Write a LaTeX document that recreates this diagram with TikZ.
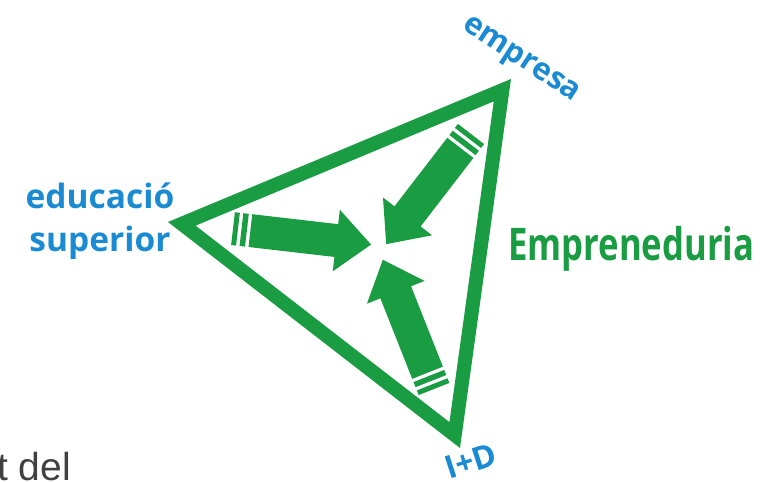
\documentclass[tikz,border=0pt]{standalone}
\usepackage{fontspec}
\setmainfont{Open Sans}
\newfontfamily\greyfont{Liberation Sans}
\definecolor{tgreen}{RGB}{26,156,66}
\definecolor{tblue}{RGB}{26,139,211}
\definecolor{tgrey}{RGB}{64,64,64}
\tikzset{
  lbl/.style={font=\fontsize{31}{43}\selectfont\bfseries, text=tblue, inner sep=0pt},
  fatarrow/.pic={
    \fill[tgreen] (0,-16.5) rectangle (5,16.5);
    \fill[tgreen] (8.5,-16.5) rectangle (14,16.5);
    \fill[tgreen] (17.5,-16.5) -- (104,-16.5) -- (104,-31) -- (139,0) -- (104,31) -- (104,16.5) -- (17.5,16.5) -- cycle;
  }
}
\begin{document}
\begin{tikzpicture}[x=1pt,y=-1pt]
\useasboundingbox (0,0) rectangle (777,482);
\coordinate (vtop) at (511,79);
\coordinate (vleft) at (168,222);
\coordinate (vbot) at (460,448);
\begin{scope}
  \clip (vtop) -- (vleft) -- (vbot) -- cycle;
  \draw[tgreen, line width=28pt, line join=miter] (vtop) -- (vleft) -- (vbot) -- cycle;
\end{scope}
\coordinate (tailL) at (233,228.6);
\coordinate (tailTR) at (471,134);
\coordinate (tailB) at (434,389);
\pic (arrL) [rotate=-6.6] at (tailL) {fatarrow};
\pic (arrTR) [rotate=-127.6] at (tailTR) {fatarrow};
\pic (arrB) [rotate=111.6] at (tailB) {fatarrow};
\node[lbl, rotate=-33] (empresa) at (520,61) {empresa};
\node[lbl, font=\fontsize{33.5}{43}\selectfont\bfseries, align=center] (edu) at (100,221) {educació\\superior};
\node[lbl, font=\fontsize{32}{40}\selectfont\bfseries, rotate=18] (id) at (471,461) {I+D};
\node[font=\fontsize{45}{54}\selectfont\bfseries, text=tgreen, anchor=base west, inner sep=0pt] (empr) at (508,260) {\scalebox{0.77}[1]{Empreneduria}};
\node[font=\greyfont\fontsize{39}{47}\selectfont, text=tgrey, anchor=base west, inner sep=0pt] (tdel) at (-3,480) {t del};
\end{tikzpicture}
\end{document}
